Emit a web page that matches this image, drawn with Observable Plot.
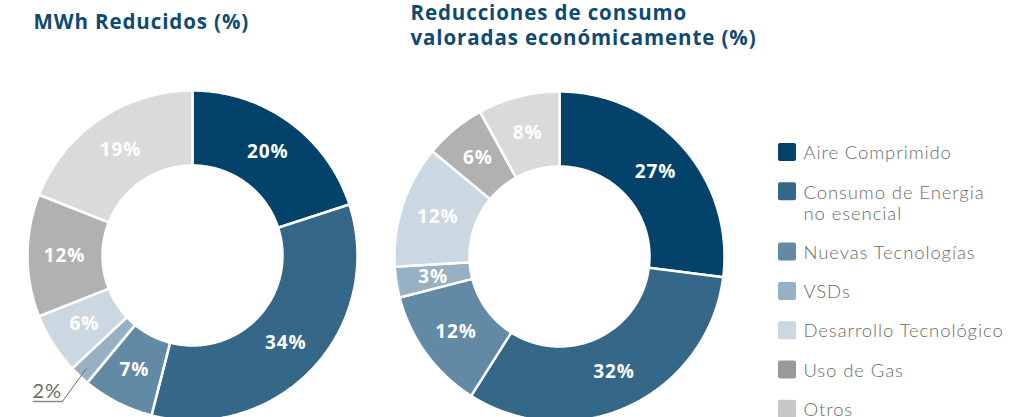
<!DOCTYPE html>
<html>
<head>
<meta charset="utf-8">
<script src="https://cdn.jsdelivr.net/npm/d3@7"></script>
<script src="https://cdn.jsdelivr.net/npm/@observablehq/plot@0.6"></script>
<style>
  html, body { margin: 0; padding: 0; background: #fff; }
  #chart svg { display: block; }
  .ttl text { letter-spacing: 0.9px; }
  .pct text { letter-spacing: 0.9px; }
  .leg text { letter-spacing: 0.9px; }
</style>
</head>
<body>
<div id="chart"></div>
<script>
// ---- data ----
const categories = ["Aire Comprimido", "Consumo de Energia no esencial", "Nuevas Tecnologías", "VSDs", "Desarrollo Tecnológico", "Uso de Gas", "Otros"];
const legendLabels = ["Aire Comprimido", "Consumo de Energia\nno esencial", "Nuevas Tecnologías", "VSDs", "Desarrollo Tecnológico", "Uso de Gas", "Otros"];
const mwhValues = [20, 34, 7, 2, 6, 12, 19];
const economicValues = [27, 32, 12, 3, 12, 6, 8];
const sliceColors = ["#03426a", "#346788", "#628aa5", "#98b0c4", "#cbd8e1", "#b1b1b1", "#dadada"];
const legendColors = ["#03426a", "#346788", "#628aa5", "#98b0c4", "#cbd8e1", "#999999", "#c8c8c8"];
const chartTitles = ["MWh Reducidos (%)", "Reducciones de consumo\nvaloradas económicamente (%)"];

// ---- layout (styles, not data) ----
const W = 1014, H = 417;
const donuts = [
  {values: mwhValues, cx: 192, cy: 255, title: chartTitles[0], tx: 33, ty: 21},
  {values: economicValues, cx: 559, cy: 256, title: chartTitles[1], tx: 410, ty: 24}
];
const R_OUT = 165, R_IN = 90, R_LAB = 128;

const polyRows = [];
const labelRows = [];
const outsideRows = [];
const leaderRows = [];
donuts.forEach((dn, k) => {
  const arcs = d3.pie().sort(null).value(d => d)(dn.values);
  arcs.forEach((a, i) => {
    const key = k + "-" + i;
    const n = Math.max(4, Math.ceil((a.endAngle - a.startAngle) / 0.01));
    const pts = [];
    for (let s = 0; s <= n; s++) {
      const t = a.startAngle + (a.endAngle - a.startAngle) * s / n;
      pts.push([dn.cx + R_OUT * Math.sin(t), dn.cy - R_OUT * Math.cos(t)]);
    }
    for (let s = n; s >= 0; s--) {
      const t = a.startAngle + (a.endAngle - a.startAngle) * s / n;
      pts.push([dn.cx + R_IN * Math.sin(t), dn.cy - R_IN * Math.cos(t)]);
    }
    pts.push(pts[0]);
    pts.forEach(p => polyRows.push({key, cat: categories[i], x: p[0], y: p[1]}));
    const mid = (a.startAngle + a.endAngle) / 2;
    const text = dn.values[i] + "%";
    if (dn.values[i] < 3) {
      const px = dn.cx + 155 * Math.sin(mid), py = dn.cy - 155 * Math.cos(mid);
      const ex = px - 24, ey = py + 33;
      leaderRows.push({key, x: px, y: py}, {key, x: ex, y: ey}, {key, x: ex - 29, y: ey});
      outsideRows.push({x: ex - 30, y: ey - 10, text});
    } else {
      labelRows.push({x: dn.cx + R_LAB * Math.sin(mid), y: dn.cy - R_LAB * Math.cos(mid), text});
    }
  });
});

const titleRows = donuts.map(d => ({x: d.tx, y: d.ty, text: d.title}));
const legendRows = legendLabels.map((lab, i) => {
  const y = 152 + i * 39.3 + (i >= 2 ? 21 : 0);
  const lines = lab.split("\n").length;
  return {i, label: lab, y, ty: y + (lines - 1) * 10.5, color: legendColors[i]};
});

const plot = Plot.plot({
  width: W, height: H,
  margin: 0,
  x: {domain: [0, W], range: [0, W], axis: null},
  y: {domain: [0, H], range: [0, H], axis: null},
  color: {domain: categories, range: sliceColors},
  style: {fontFamily: "'Open Sans', sans-serif", background: "#fff"},
  marks: [
    Plot.line(polyRows, {x: "x", y: "y", z: "key", fill: "cat", stroke: "#fff", strokeWidth: 2.5, strokeLinejoin: "miter"}),
    Plot.text(labelRows, {x: "x", y: "y", text: "text", fill: "#fff", fontSize: 19, fontWeight: 700, className: "pct"}),
    Plot.line(leaderRows.slice(0, 2), {x: "x", y: "y", stroke: "#6f6f6f", strokeWidth: 1}),
    Plot.line(leaderRows.slice(1), {x: "x", y: "y", stroke: "#8a8a8a", strokeWidth: 1.6}),
    Plot.text(outsideRows, {x: "x", y: "y", text: "text", fill: "#6a6a6a", fontSize: 20, textAnchor: "start", fontWeight: 400, fontFamily: "Lato, sans-serif", className: "leg"}),
    Plot.text(titleRows, {x: "x", y: "y", text: "text", fill: "#0f4a73", fontSize: 20.5, fontWeight: 700, textAnchor: "start", lineHeight: 1.2, className: "ttl"}),
    ...legendRows.map(r => Plot.rect([r], {x1: 778, x2: 796, y1: d => d.y - 9, y2: d => d.y + 9, fill: r.color, rx: 2})),
    Plot.text(legendRows, {x: 803, y: "ty", text: "label", fill: "#6b6b6b", fontSize: 18.5, fontWeight: 300, textAnchor: "start", lineHeight: 1.14, fontFamily: "Lato, 'Open Sans', sans-serif", className: "leg"})
  ]
});
document.getElementById("chart").appendChild(plot);
</script>
</body>
</html>
